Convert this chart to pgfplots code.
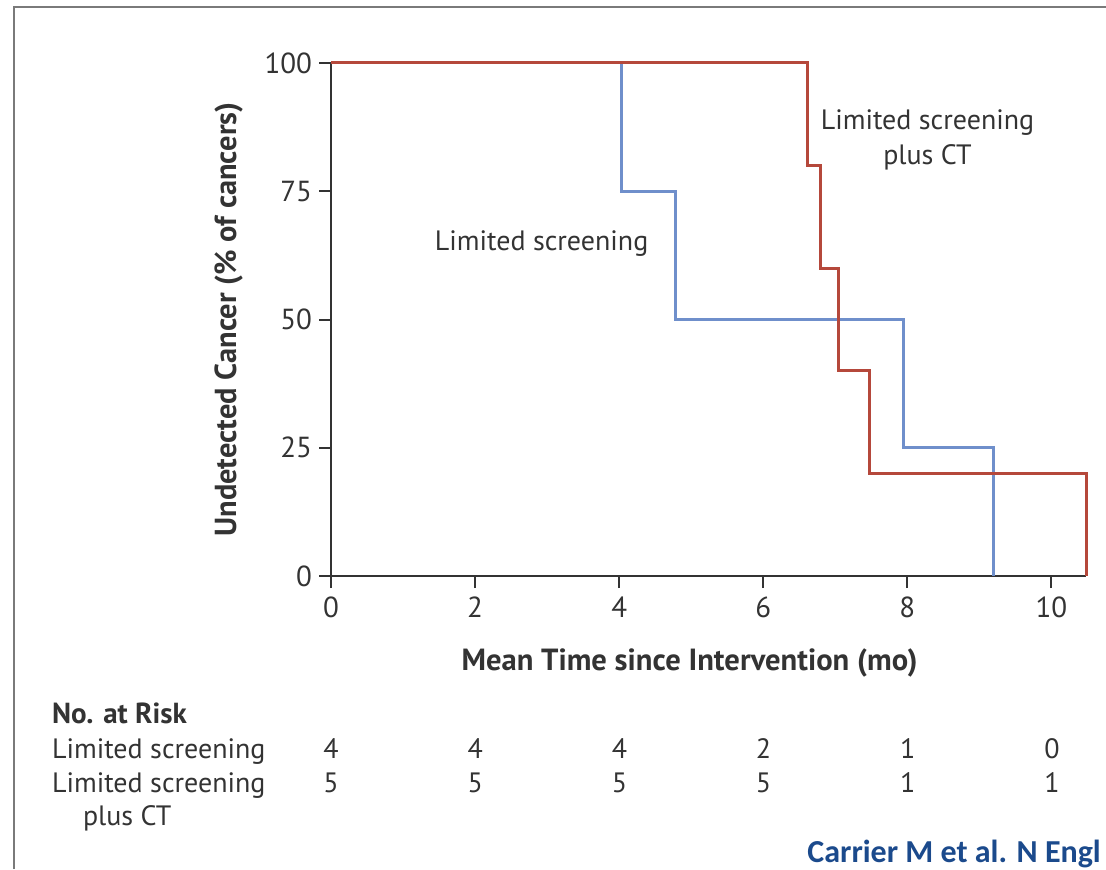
\documentclass[border=0pt]{standalone}
\usepackage{pgfplots}
\pgfplotsset{compat=1.18}
\usepackage{fontspec}
\setmainfont{PT Sans}
\newfontfamily\carlito{Carlito}
\definecolor{kmblue}{HTML}{6F8FCB}
\definecolor{kmred}{HTML}{B5483B}
\definecolor{axgray}{HTML}{333333}
\definecolor{framegray}{HTML}{7A7A7A}
\definecolor{citeblue}{HTML}{1B4A8C}
\begin{document}
\begin{tikzpicture}
\useasboundingbox (0,0) rectangle (553pt,434.5pt);
\draw[framegray,line width=0.8pt] (7pt,0) -- (7pt,431pt) -- (553pt,431pt);
\begin{axis}[
  at={(165.5pt,146.5pt)}, anchor=origin,
  scale only axis, width=377.5pt, height=256.5pt,
  xmin=0, xmax=10.48, ymin=0, ymax=100,
  axis lines=left, axis line style={-, axgray, line width=1pt},
  xtick={0,2,4,6,8,10}, ytick={0,25,50,75,100},
  tick align=outside, major tick length=6pt,
  tick style={axgray, line width=1pt},
  /pgf/number format/assume math mode=true,
  ticklabel style={font=\fontsize{14.5}{17}\selectfont, text=axgray},
  xticklabel style={yshift=-1pt},
  clip=false,
  xlabel={\bfseries Mean Time since Intervention (mo)},
  ylabel={\bfseries Undetected Cancer (\% of cancers)},
  xlabel style={font=\fontsize{15.3}{18}\selectfont, text=axgray, at={(axis description cs:0.475,0)}, yshift=-33pt},
  ylabel style={font=\fontsize{15.2}{18}\selectfont, text=axgray, yshift=4pt},
]
\addplot[const plot, kmblue, line width=1.5pt] coordinates {(0,100) (4.03,75) (4.78,50) (7.94,25) (9.19,0)};
\addplot[const plot, kmred, line width=1.5pt] coordinates {(0,100) (6.61,80) (6.80,60) (7.04,40) (7.47,20) (10.48,0)};
\node[font=\fontsize{14}{16}\selectfont, text=axgray] at (axis cs:2.923,64.9) {Limited screening};
\node[font=\fontsize{14}{17.5}\selectfont, text=axgray, align=center] at (axis cs:8.28,85.0) {Limited screening\\plus CT};
\end{axis}
\begin{scope}[font=\fontsize{14}{16}\selectfont, text=axgray]
\node[anchor=base west, font=\fontsize{14.5}{17}\selectfont\bfseries] at (22.5pt,{(869-723)*0.5pt}) {No. at Risk};
\node[anchor=base west] at (22.5pt,{(869-758)*0.5pt}) {Limited screening};
\node[anchor=base west] at (22.5pt,{(869-792)*0.5pt}) {Limited screening};
\node[anchor=base west] at (38pt,{(869-825)*0.5pt}) {plus CT};
\foreach \x/\a/\b in {0/4/5, 2/4/5, 4/4/5, 6/2/5, 8/1/1, 10/0/1} {
  \node[anchor=base] at ({(331+72.1*\x)*0.5pt},{(869-758)*0.5pt}) {\a};
  \node[anchor=base] at ({(331+72.1*\x)*0.5pt},{(869-792)*0.5pt}) {\b};
}
\end{scope}
\node[anchor=base west, font=\carlito\fontsize{16}{19}\selectfont\bfseries, text=citeblue, inner sep=0pt] at (403.5pt,{(869-862)*0.5pt}) {Carrier M et al. N Engl};
\end{tikzpicture}
\end{document}
